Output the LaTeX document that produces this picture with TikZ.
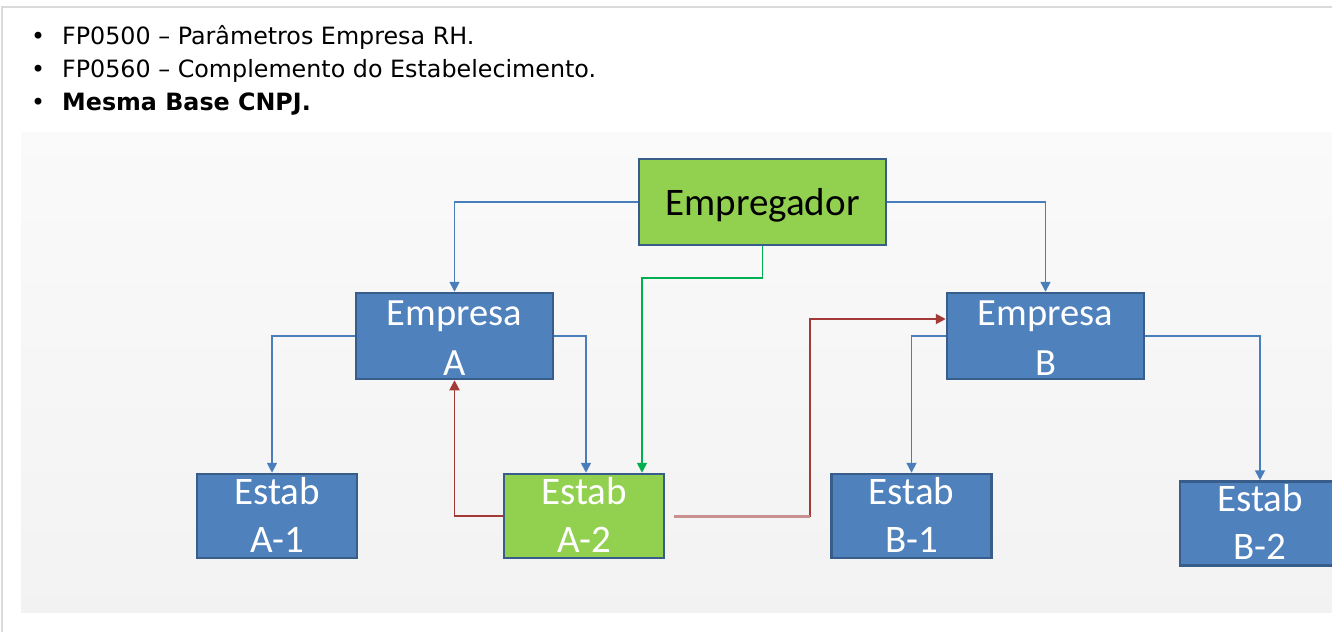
\documentclass[tikz,border=0pt]{standalone}
\usepackage{fontspec}
\setmainfont{DejaVu Sans}
\newfontfamily\boxfont{Carlito}
\usetikzlibrary{arrows.meta}
\definecolor{boxblue}{HTML}{4F81BD}
\definecolor{boxedge}{HTML}{385D8A}
\definecolor{boxgreen}{HTML}{92D050}
\definecolor{lineblue}{HTML}{4A7EBB}
\definecolor{linegreen}{HTML}{00B050}
\definecolor{linered}{HTML}{A23B38}
\definecolor{linepink}{HTML}{C8918F}
\definecolor{framegray}{HTML}{DADADA}
\begin{document}
\begin{tikzpicture}[x=1pt, y=-1pt, >={Triangle[length=10pt, width=10pt]}]
    % Empregador -> Empresa -> Estabelecimento (mesma base CNPJ)
    \tikzset{item/.style={anchor=base west, inner sep=0, font=\fontsize{23.8}{28}\selectfont},
        box/.style={draw=boxedge, line width=2.5pt, fill=boxblue, text=white, inner sep=0, align=center},
        empresa/.style={box, minimum width=197pt, minimum height=86pt, text height=78pt, text depth=0pt, font=\boxfont\fontsize{38.5}{50}\selectfont},
        estab/.style={box, minimum width=160pt, minimum height=84pt, text height=72pt, text depth=0pt, font=\boxfont\fontsize{39}{48}\selectfont},
        greenbox/.style={fill=boxgreen},
        blueline/.style={->, lineblue, line width=1.7pt}, greenline/.style={->, linegreen, line width=1.7pt},
        redline/.style={->, linered, line width=1.9pt}, pinkline/.style={linepink, line width=3pt}}
    \useasboundingbox (0,0) rectangle (1332,632);
    \clip (0,0) rectangle (1332,632);
    \draw[framegray, line width=2pt] (2,632) -- (2,7) -- (1332,7);
    \shade[top color=white!98!black, bottom color=white!95!black] (21,132) rectangle (1332,612);
    \node[item] (fp0500) at (31,44) {\makebox[31pt][l]{•}FP0500 – Parâmetros Empresa RH.};
    \node[item] (fp0560) at (31,77) {\makebox[31pt][l]{•}FP0560 – Complemento do Estabelecimento.};
    \node[item] (cnpj) at (31,110) {\makebox[31pt][l]{•}\textbf{Mesma Base CNPJ.}};
    % boxes
    \node[box, greenbox, text=black, minimum width=247pt, minimum height=86pt, text height=30pt, text depth=4pt, font=\boxfont\fontsize{39}{48}\selectfont] (emp) at (762.5,202) {Empregador};
    \node[empresa] (empA) at (454.5,336) {Empresa\\A};
    \node[empresa] (empB) at (1045.5,336) {Empresa\\B};
    \node[estab] (estA1) at (277,516) {Estab\\A-1};
    \node[estab, greenbox] (estA2) at (584,516) {Estab\\A-2};
    \node[estab] (estB1) at (911.5,516) {Estab\\B-1};
    \node[estab] (estB2) at (1260,523.5) {Estab\\B-2};
    % connectors
    \coordinate (gbend) at (642,278);
    \coordinate (rbend) at (810,319);
    \draw[blueline] (emp.west) -| (empA.north);
    \draw[blueline] (emp.east) -| (empB.north);
    \draw[greenline] (emp.south) |- (gbend) -- (gbend |- estA2.north);
    \draw[blueline] (empA.west) -| ([xshift=-5pt]estA1.north);
    \draw[blueline] (empA.east) -| ([xshift=2pt]estA2.north);
    \draw[redline] (estA2.west) -| (empA.south);
    \draw[redline] ([xshift=9pt]estA2.east) -| (rbend) -- (rbend -| empB.west);
    \draw[pinkline] ([xshift=9pt]estA2.east) -- (estA2.east -| rbend);
    \draw[blueline] (empB.west) -| (estB1.north);
    \draw[blueline] (empB.east) -| (estB2.north);
\end{tikzpicture}
\end{document}
